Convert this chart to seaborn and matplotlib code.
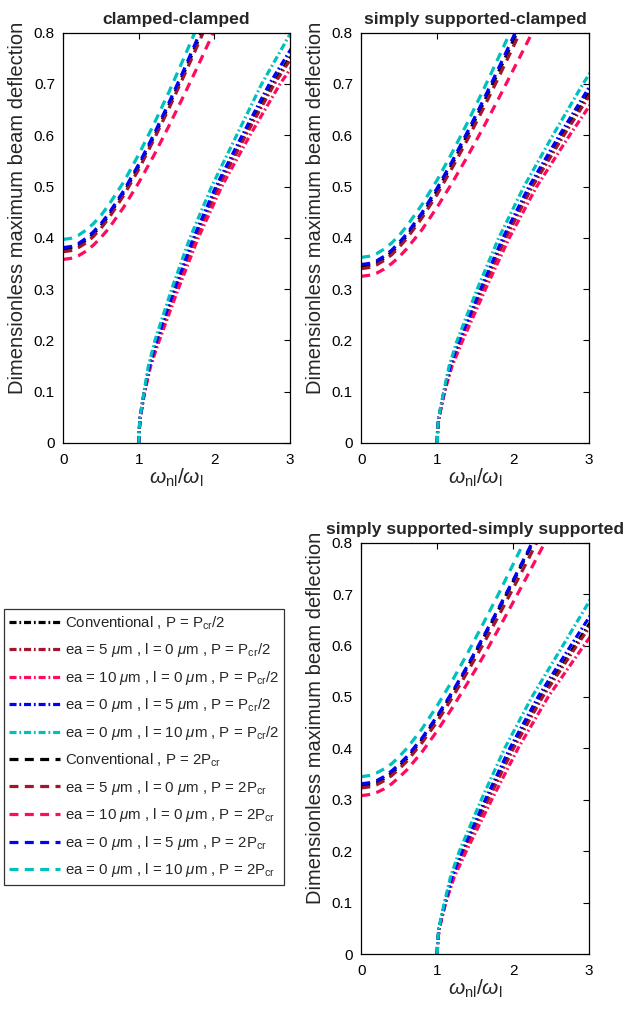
import matplotlib
matplotlib.use("Agg")
import matplotlib.pyplot as plt
import pandas as pd
import seaborn as sns

sns.set_style("white")
plt.rcParams["font.family"] = ["Liberation Sans", "DejaVu Sans"]
plt.rcParams["mathtext.fontset"] = "custom"
plt.rcParams["mathtext.rm"] = "Liberation Sans"
plt.rcParams["mathtext.it"] = "Liberation Sans:italic"
plt.rcParams["mathtext.bf"] = "Liberation Sans:bold"

# ---- data -------------------------------------------------------------
panels = ["clamped-clamped", "simply supported-clamped",
          "simply supported-simply supported"]
cases = ["conv", "ea5", "ea10", "l5", "l10"]
colors = {"conv": "#000000", "ea5": "#A2142F", "ea10": "#FF0A5F",
          "l5": "#0000FF", "l10": "#00BFBF"}

# P = Pcr/2 : frequency ratio read at these deflection amplitudes
amp_pre = [0, 0.025, 0.05, 0.1, 0.15, 0.2, 0.3, 0.4, 0.5, 0.6, 0.7, 0.8]
cc_pre = {
    "conv": [1, 1.005, 1.017, 1.073, 1.144, 1.248, 1.486, 1.743, 2.044, 2.401, 2.773, 3.208],
    "ea5":  [1, 1.005, 1.018, 1.074, 1.147, 1.252, 1.493, 1.752, 2.055, 2.415, 2.793, 3.234],
    "ea10": [1, 1.005, 1.019, 1.077, 1.156, 1.270, 1.520, 1.786, 2.096, 2.470, 2.868, 3.334],
    "l5":   [1, 1.004, 1.017, 1.072, 1.139, 1.237, 1.470, 1.722, 2.019, 2.368, 2.727, 3.147],
    "l10":  [1, 1.004, 1.015, 1.068, 1.126, 1.213, 1.434, 1.676, 1.963, 2.294, 2.625, 3.011],
}
sc_pre = {
    "conv": [1, 1.006, 1.022, 1.092, 1.179, 1.305, 1.589, 1.890, 2.239, 2.649, 3.080, 3.571],
    "ea5":  [1, 1.006, 1.022, 1.094, 1.183, 1.311, 1.599, 1.903, 2.254, 2.669, 3.105, 3.605],
    "ea10": [1, 1.006, 1.024, 1.098, 1.196, 1.336, 1.636, 1.950, 2.311, 2.744, 3.201, 3.737],
    "l5":   [1, 1.005, 1.021, 1.090, 1.172, 1.291, 1.570, 1.865, 2.209, 2.610, 3.030, 3.501],
    "l10":  [1, 1.005, 1.019, 1.085, 1.157, 1.263, 1.527, 1.811, 2.143, 2.524, 2.920, 3.350],
}
ss_pre = {
    "conv": [1, 1.007, 1.025, 1.105, 1.204, 1.344, 1.659, 1.989, 2.369, 2.814, 3.271, 3.803],
    "ea5":  [1, 1.007, 1.026, 1.107, 1.208, 1.352, 1.671, 2.005, 2.389, 2.839, 3.304, 3.846],
    "ea10": [1, 1.007, 1.028, 1.113, 1.225, 1.383, 1.718, 2.065, 2.461, 2.933, 3.430, 4.009],
    "l5":   [1, 1.006, 1.024, 1.102, 1.194, 1.327, 1.633, 1.956, 2.329, 2.761, 3.201, 3.711],
    "l10":  [1, 1.006, 1.021, 1.095, 1.175, 1.292, 1.581, 1.889, 2.248, 2.656, 3.060, 3.529],
}

# P = 2Pcr : deflection amplitude read at these frequency ratios
freq_post = [0, 0.1, 0.2, 0.3, 0.4, 0.5, 0.6, 0.8, 1.0, 1.2, 1.4, 1.6, 1.8, 2.0, 2.2, 2.4, 2.6]
cc_post = {
    "conv": [.378, .380, .386, .395, .408, .424, .443, .488, .540, .597, .659, .723, .790, .858],
    "ea5":  [.373, .375, .381, .390, .403, .419, .438, .483, .534, .592, .653, .717, .783, .851],
    "ea10": [.358, .360, .365, .374, .386, .401, .418, .460, .508, .561, .619, .679, .741, .805],
    "l5":   [.381, .383, .389, .399, .412, .428, .447, .492, .544, .602, .664, .729, .797, .866],
    "l10":  [.397, .399, .405, .415, .428, .444, .464, .509, .563, .622, .685, .752, .821],
}
sc_post = {
    "conv": [.344, .346, .351, .360, .372, .386, .404, .445, .492, .545, .601, .660, .721, .784, .848],
    "ea5":  [.340, .342, .347, .356, .367, .382, .399, .439, .485, .537, .592, .650, .710, .772, .835],
    "ea10": [.325, .327, .331, .339, .350, .363, .379, .416, .460, .508, .559, .613, .669, .727, .785, .845],
    "l5":   [.348, .350, .355, .364, .376, .391, .408, .449, .497, .550, .607, .666, .728, .791, .855],
    "l10":  [.362, .364, .369, .378, .390, .405, .423, .465, .513, .567, .625, .686, .749, .813],
}
ss_post = {
    "conv": [.327, .329, .333, .341, .352, .365, .380, .417, .460, .507, .558, .612, .667, .724, .782, .842],
    "ea5":  [.323, .325, .329, .337, .347, .360, .375, .411, .452, .499, .549, .601, .655, .711, .768, .826],
    "ea10": [.308, .310, .314, .321, .331, .344, .358, .393, .434, .479, .527, .577, .630, .684, .739, .795, .851],
    "l5":   [.331, .333, .337, .345, .356, .369, .384, .420, .463, .510, .561, .615, .670, .727, .785, .845],
    "l10":  [.345, .347, .352, .360, .370, .384, .400, .438, .483, .532, .585, .641, .698, .758, .818],
}

pre_sets = [cc_pre, sc_pre, ss_pre]
post_sets = [cc_post, sc_post, ss_post]

labels_pre = {
    "conv": r"Conventional , P = P$_{\mathrm{cr}}$/2",
    "ea5":  r"ea = 5 $\mu$m , l = 0 $\mu$m , P = P$_{\mathrm{cr}}$/2",
    "ea10": r"ea = 10 $\mu$m , l = 0 $\mu$m , P = P$_{\mathrm{cr}}$/2",
    "l5":   r"ea = 0 $\mu$m , l = 5 $\mu$m , P = P$_{\mathrm{cr}}$/2",
    "l10":  r"ea = 0 $\mu$m , l = 10 $\mu$m , P = P$_{\mathrm{cr}}$/2",
}
labels_post = {
    "conv": r"Conventional , P = 2P$_{\mathrm{cr}}$",
    "ea5":  r"ea = 5 $\mu$m , l = 0 $\mu$m , P = 2P$_{\mathrm{cr}}$",
    "ea10": r"ea = 10 $\mu$m , l = 0 $\mu$m , P = 2P$_{\mathrm{cr}}$",
    "l5":   r"ea = 0 $\mu$m , l = 5 $\mu$m , P = 2P$_{\mathrm{cr}}$",
    "l10":  r"ea = 0 $\mu$m , l = 10 $\mu$m , P = 2P$_{\mathrm{cr}}$",
}

x_ticks = [0, 1, 2, 3]
y_ticks = [0, 0.1, 0.2, 0.3, 0.4, 0.5, 0.6, 0.7, 0.8]

# ---- figure -----------------------------------------------------------
W, H = 625, 1013
fig = plt.figure(figsize=(W / 100, H / 100), dpi=100)

def frac(left, top, right, bottom):
    return [left / W, 1 - bottom / H, (right - left) / W, (bottom - top) / H]

axes = [
    fig.add_axes(frac(63.3, 32.7, 290.0, 443.0)),
    fig.add_axes(frac(361.3, 32.7, 589.0, 443.0)),
    fig.add_axes(frac(361.3, 542.7, 589.0, 954.0)),
]

ls_pre = (0, (2.2, 0.9, 0.55, 0.9))
ls_post = (0, (2.8, 2.0))
lw = 2.3

for ax, title, pre, post in zip(axes, panels, pre_sets, post_sets):
    for c in cases:
        df = pd.DataFrame({"w": pre[c], "a": amp_pre})
        sns.lineplot(data=df, x="w", y="a", ax=ax, sort=False, estimator=None,
                     color=colors[c], lw=lw, linestyle=ls_pre,
                     label=labels_pre[c], legend=False)
    for c in cases:
        vals = post[c]
        df = pd.DataFrame({"w": freq_post[:len(vals)], "a": vals})
        sns.lineplot(data=df, x="w", y="a", ax=ax, sort=False, estimator=None,
                     color=colors[c], lw=lw, linestyle=ls_post,
                     label=labels_post[c], legend=False)
    ax.set_xlim(0, 3)
    ax.set_ylim(0, 0.8)
    ax.set_xticks(x_ticks)
    ax.set_xticklabels([str(t) for t in x_ticks])
    ax.set_yticks(y_ticks)
    ax.set_yticklabels(["0"] + [f"{t:.1f}" for t in y_ticks[1:]])
    ax.tick_params(direction="in", length=4, width=0.8, top=True, right=True,
                   labelsize=11, colors="black")
    ax.tick_params(axis="x", pad=7)
    ax.tick_params(axis="y", pad=6)
    for s in ax.spines.values():
        s.set_color("black")
        s.set_linewidth(0.9)
    ax.set_xlabel(r"$\omega_{\mathrm{nl}}/\omega_{\mathrm{l}}$", fontsize=15, labelpad=0)
    ax.set_ylabel("Dimensionless maximum beam deflection", fontsize=14.5)
    ax.yaxis.set_label_coords(-0.160, 0.573)
    ax.set_title(title, fontsize=12.6, fontweight="bold", pad=6)

handles, labs = axes[0].get_legend_handles_labels()
leg = fig.legend(handles, labs, loc="upper left",
                 bbox_to_anchor=(4 / W, 1 - 609 / H), bbox_transform=fig.transFigure,
                 fontsize=10.8, frameon=True, fancybox=False, framealpha=1,
                 edgecolor="#333333", borderaxespad=0, borderpad=0.35,
                 handlelength=3.4, handletextpad=0.3, labelspacing=0.64)
leg.get_frame().set_linewidth(0.9)

fig.savefig("out.png", dpi=100)
